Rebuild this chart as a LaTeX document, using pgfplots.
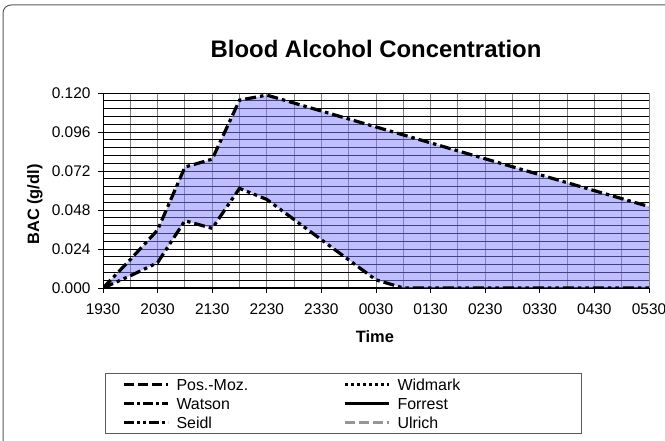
\documentclass[border=0pt]{standalone}
\usepackage{fontspec}
\setmainfont{Liberation Sans}
\usepackage{pgfplots}
\pgfplotsset{compat=1.18}
\usepgfplotslibrary{fillbetween}
\definecolor{areafill}{RGB}{128,128,255}
\definecolor{gridgray}{RGB}{128,128,128}
\definecolor{framegray}{RGB}{90,90,90}
\definecolor{ulrichgray}{RGB}{150,150,150}
\begin{document}
\begin{tikzpicture}
\draw[line width=1bp, draw=framegray, rounded corners=8bp] (3bp,-20bp) rectangle (690bp,436bp);
\node[font=\bfseries\fontsize{24}{28}\selectfont] at (376bp,392bp) {Blood Alcohol Concentration};
\begin{axis}[
  at={(103bp,153bp)}, anchor=south west,
  scale only axis, width=546bp, height=195bp,
  xmin=0, xmax=20, ymin=0, ymax=0.12,
  axis x line=bottom, axis y line=left,
  axis line style={-, black, line width=1bp},
  xtick={0,2,4,6,8,10,12,14,16,18,20},
  xticklabels={1930,2030,2130,2230,2330,0030,0130,0230,0330,0430,0530},
  minor xtick={1,3,5,7,9,11,13,15,17,19},
  ytick={0,0.024,0.048,0.072,0.096,0.12},
  minor ytick={0.0048,0.0096,0.0144,0.0192,0.0288,0.0336,0.0384,0.0432,0.0528,0.0576,0.0624,0.0672,0.0768,0.0816,0.0864,0.0912,0.1008,0.1056,0.1104,0.1152},
  grid=both,
  major x grid style={gridgray, line width=1bp},
  minor x grid style={gridgray, line width=1bp},
  major y grid style={black, line width=0.8bp},
  minor y grid style={black, line width=0.8bp},
  tick align=outside, major tick length=5bp, minor tick length=0bp,
  tick style={black, line width=0.8bp},
  yticklabel style={xshift=-4bp, /pgf/number format/.cd, fixed, fixed zerofill, precision=3},
  xticklabel style={yshift=-7bp},
  scaled y ticks=false,
  /pgf/number format/assume math mode=true,
  ticklabel style={font=\fontsize{15.5}{17}\selectfont},
  xlabel={Time}, ylabel={BAC (g/dl)},
  every axis x label/.style={at={(axis description cs:0.498,-0.251)}, anchor=center, font=\bfseries\fontsize{16.5}{18}\selectfont},
  every axis y label/.style={at={(axis description cs:-0.1245,0.428)}, anchor=center, rotate=90, font=\bfseries\fontsize{16.5}{18}\selectfont},
  legend columns=2,
  legend cell align=left,
  legend image code/.code={\draw[#1] (0bp,0bp) -- (44bp,0bp);},
  legend style={at={(axis description cs:0.0037,-0.436)}, anchor=north west,
    draw=framegray, line width=1bp, font=\fontsize{16}{18}\selectfont,
    inner xsep=17bp, inner ysep=3.5bp, row sep=4bp,
    nodes={inner xsep=0bp, inner ysep=0bp, text height=13.5bp, text depth=1.5bp},
    /tikz/every odd column/.append style={column sep=7bp},
    /tikz/every even column/.append style={nodes={text width=167bp}}},
]
\addlegendimage{black, line width=3bp, dash pattern=on 10bp off 4bp}
\addlegendentry{Pos.-Moz.}
\addlegendimage{black, line width=3bp, dash pattern=on 3bp off 3bp}
\addlegendentry{Widmark}
\addlegendimage{black, line width=3bp, dash pattern=on 10bp off 3bp on 3bp off 3bp}
\addlegendentry{Watson}
\addlegendimage{black, line width=3bp}
\addlegendentry{Forrest}
\addlegendimage{black, line width=3bp, dash pattern=on 10bp off 3bp on 3bp off 3bp on 3bp off 3bp}
\addlegendentry{Seidl}
\addlegendimage{ulrichgray, line width=3bp, dash pattern=on 10bp off 4bp}
\addlegendentry{Ulrich}

\addplot[name path=upper, forget plot, black, line width=3.2bp, dash pattern=on 11bp off 4bp on 3.5bp off 4bp] coordinates {
(0,0) (1,0.0175) (2,0.0357) (3,0.0744) (4,0.0793) (5,0.1156) (6,0.1187) (7,0.1138) (8,0.1089) (9,0.1040) (10,0.0991) (11,0.0942) (12,0.0893) (13,0.0844) (14,0.0795) (15,0.0746) (16,0.0697) (17,0.0648) (18,0.0599) (19,0.0550) (20,0.0501)};
\addplot[name path=lower, forget plot, black, line width=3.2bp, dash pattern=on 11bp off 4bp on 3.5bp off 4bp on 3.5bp off 4bp] coordinates {
(0,0) (1,0.0075) (2,0.0156) (3,0.0414) (4,0.0367) (5,0.0613) (6,0.0545) (7,0.0421) (8,0.0297) (9,0.0173) (10,0.0050) (11,0) (12,0) (13,0) (14,0) (15,0) (16,0) (17,0) (18,0) (19,0) (20,0)};
\addplot[areafill, fill opacity=0.5, draw=none, forget plot] fill between[of=upper and lower];
\end{axis}
\pgfresetboundingbox
\path[use as bounding box] (0bp,0bp) rectangle (665bp,441bp);
\end{tikzpicture}
\end{document}
